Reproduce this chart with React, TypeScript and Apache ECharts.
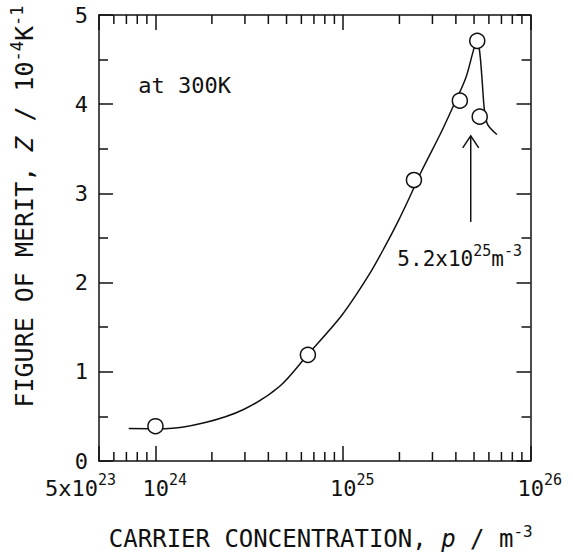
import React, { useEffect, useRef } from 'react';
import * as echarts from 'echarts';

// Measured points: carrier concentration p (m^-3) and figure of merit Z (10^-4 K^-1)
const measuredP = [1.0e24, 6.5e24, 2.39e25, 4.2e25, 5.2e25, 5.36e25];
const measuredZ = [0.39, 1.19, 3.15, 4.04, 4.71, 3.86];

// Hand-drawn fit curve, rising branch and falling branch
const fitRiseP = [7.2e23, 1.12e24, 1.82e24, 2.95e24, 4.6e24, 6.49e24, 9.91e24, 1.37e25, 1.67e25, 1.97e25, 2.27e25, 2.61e25, 3.33e25, 3.84e25, 4.51e25, 4.99e25, 5.2e25];
const fitRiseZ = [0.364, 0.361, 0.428, 0.577, 0.838, 1.193, 1.64, 2.08, 2.4, 2.69, 2.96, 3.24, 3.68, 3.96, 4.29, 4.62, 4.71];
const fitFallP = [5.2e25, 5.35e25, 5.52e25, 5.68e25, 5.86e25, 6.11e25, 6.62e25];
const fitFallZ = [4.71, 4.6, 4.27, 3.93, 3.79, 3.73, 3.66];

// Axis tick labels
const xLabelValues = [5e23, 1e24, 1e25, 1e26];
const xLabelMantissa = ['5x10', '10', '10', '10'];
const xLabelExponent = ['23', '24', '25', '26'];
const xMinorTicks = [6e23, 7e23, 8e23, 9e23, 2e24, 3e24, 4e24, 5e24, 6e24, 7e24, 8e24, 9e24, 2e25, 3e25, 4e25, 5e25, 6e25, 7e25, 8e25, 9e25];
const yTickLabels = ['0', '1', '2', '3', '4', '5'];

// Annotations (data coordinates)
const arrowP = [4.8e25];
const arrowFromZ = [2.68];
const arrowToZ = [3.645];
const noteP = [8.1e23, 1.95e25];
const noteZ = [4.21, 2.27];
const noteTexts = ['at 300K', '{b|5.2x10}{s|25}{b|m}{s|-3}'];

const xTitle = 'CARRIER CONCENTRATION, {i|p} / m{s|-3}';
const yTitle = 'FIGURE OF MERIT, {i|Z} / 10{s|-4}K{s|-1}';

export default function App() {
  const ref = useRef<HTMLDivElement>(null);
  useEffect(() => {
    const chart = echarts.init(ref.current!, null, { renderer: 'svg' });
    const FONT = "'DejaVu Sans Mono', monospace";
    const ink = '#111';
    const lw = 1.5;

    const axisLine = { show: true, onZero: false, lineStyle: { color: ink, width: lw } };
    const xAxisCommon = {
      type: 'log',
      logBase: 10,
      min: 5e23,
      max: 1e26,
      splitLine: { show: false },
      axisLine,
      axisLabel: { show: false },
      axisTick: { show: true, inside: true, length: 15, lineStyle: { color: ink, width: lw } },
    };
    const yAxisCommon = {
      type: 'value',
      min: 0,
      max: 5,
      interval: 1,
      splitLine: { show: false },
      axisLine,
      axisTick: { show: true, inside: true, length: 14, lineStyle: { color: ink, width: lw } },
      minorTick: { show: true, splitNumber: 2, length: 9, lineStyle: { color: ink, width: lw } },
    };
    const titleRich = {
      i: { fontSize: 24, fontFamily: FONT, fontStyle: 'italic', color: ink },
      s: { fontSize: 16, fontFamily: FONT, color: ink, padding: [0, 0, 16, 0] },
    };

    const option: any = {
      animation: false,
      backgroundColor: '#fff',
      grid: { left: 93.5, top: 15, right: 42.5, bottom: 94.5 },
      xAxis: [
        {
          ...xAxisCommon,
          position: 'bottom',
          name: xTitle,
          nameLocation: 'middle',
          nameGap: 62,
          nameTextStyle: {
            fontSize: 24,
            fontFamily: FONT,
            color: ink,
            padding: [0, 0, 0, 12],
            rich: titleRich,
          },
        },
        { ...xAxisCommon, position: 'top' },
      ],
      yAxis: [
        {
          ...yAxisCommon,
          position: 'left',
          axisLabel: {
            show: true,
            margin: 11,
            fontSize: 22,
            fontFamily: FONT,
            color: ink,
            formatter: (v: number) => yTickLabels[Math.round(v)] ?? '',
          },
          name: yTitle,
          nameLocation: 'middle',
          nameRotate: 90,
          nameGap: 58,
          nameTextStyle: {
            fontSize: 25,
            fontFamily: FONT,
            color: ink,
            padding: [0, 0, 0, 63],
            rich: {
              i: { fontSize: 25, fontFamily: FONT, fontStyle: 'italic', color: ink },
              s: { fontSize: 17, fontFamily: FONT, color: ink, padding: [0, 0, 16, 0] },
            },
          },
        },
        { ...yAxisCommon, position: 'right', axisLabel: { show: false } },
      ],
      series: [
        {
          type: 'line',
          name: 'fit-rise',
          data: fitRiseP.map((p, i) => [p, fitRiseZ[i]]),
          smooth: 0.3,
          showSymbol: false,
          symbol: 'none',
          lineStyle: { color: ink, width: lw },
          z: 2,
        },
        {
          type: 'line',
          name: 'fit-fall',
          data: fitFallP.map((p, i) => [p, fitFallZ[i]]),
          smooth: 0.4,
          showSymbol: false,
          symbol: 'none',
          lineStyle: { color: ink, width: lw },
          z: 2,
        },
        {
          type: 'scatter',
          name: 'measured',
          data: measuredP.map((p, i) => [p, measuredZ[i]]),
          symbol: 'circle',
          symbolSize: 15,
          itemStyle: { color: '#fff', borderColor: ink, borderWidth: lw, opacity: 1 },
          z: 4,
        },
        {
          type: 'custom',
          name: 'minor-ticks',
          data: xMinorTicks.map((v) => [v, 0]),
          encode: { x: 0, y: 1 },
          silent: true,
          z: 3,
          renderItem: (params: any, api: any) => {
            const v = api.value(0);
            const b = api.coord([v, 0]);
            const t = api.coord([v, 5]);
            return {
              type: 'group',
              children: [
                { type: 'line', shape: { x1: b[0], y1: b[1], x2: b[0], y2: b[1] - 9 }, style: { stroke: ink, lineWidth: lw } },
                { type: 'line', shape: { x1: t[0], y1: t[1], x2: t[0], y2: t[1] + 9 }, style: { stroke: ink, lineWidth: lw } },
              ],
            };
          },
        },
        {
          type: 'custom',
          name: 'x-labels',
          data: xLabelValues.map((v, i) => [v, 0, i]),
          encode: { x: 0, y: 1 },
          silent: true,
          clip: false,
          z: 3,
          renderItem: (params: any, api: any) => {
            const i = api.value(2);
            const c = api.coord([api.value(0), 0]);
            const first = i === 0;
            return {
              type: 'text',
              x: first ? c[0] + 17 : c[0] - 13,
              y: c[1] + 27,
              style: {
                text: `{b|${xLabelMantissa[i]}}{s|${xLabelExponent[i]}}`,
                align: first ? 'right' : 'left',
                verticalAlign: 'middle',
                fontSize: 22,
                fontFamily: FONT,
                fill: ink,
                rich: {
                  b: { fontSize: 22, fontFamily: FONT, fill: ink, color: ink, lineHeight: 24 },
                  s: { fontSize: 15, fontFamily: FONT, fill: ink, color: ink, lineHeight: 15, padding: [0, 0, 16, 0] },
                },
              },
            };
          },
        },
        {
          type: 'custom',
          name: 'arrow',
          data: arrowP.map((p, i) => [p, arrowFromZ[i], arrowToZ[i]]),
          encode: { x: 0, y: [1, 2] },
          silent: true,
          z: 3,
          renderItem: (params: any, api: any) => {
            const p0 = api.coord([api.value(0), api.value(1)]);
            const p1 = api.coord([api.value(0), api.value(2)]);
            return {
              type: 'group',
              children: [
                { type: 'line', shape: { x1: p0[0], y1: p0[1], x2: p1[0], y2: p1[1] }, style: { stroke: ink, lineWidth: lw } },
                {
                  type: 'polyline',
                  shape: { points: [[p1[0] - 8, p1[1] + 12], [p1[0], p1[1]], [p1[0] + 8, p1[1] + 12]] },
                  style: { stroke: ink, fill: 'none', lineWidth: lw },
                },
              ],
            };
          },
        },
        {
          type: 'custom',
          name: 'notes',
          data: noteP.map((p, i) => [p, noteZ[i], i]),
          encode: { x: 0, y: 1 },
          silent: true,
          z: 3,
          renderItem: (params: any, api: any) => {
            const pt = api.coord([api.value(0), api.value(1)]);
            const idx = api.value(2);
            return {
              type: 'text',
              x: pt[0],
              y: pt[1],
              style: {
                text: noteTexts[idx],
                fontSize: 22,
                fontFamily: FONT,
                fill: ink,
                align: 'left',
                verticalAlign: 'middle',
                rich: {
                  b: { fontSize: 21, fontFamily: FONT, fill: ink, color: ink, lineHeight: 24 },
                  s: { fontSize: 15, fontFamily: FONT, fill: ink, color: ink, lineHeight: 15, padding: [0, 0, 16, 0] },
                },
              },
            };
          },
        },
      ],
    };
    chart.setOption(option);
    return () => chart.dispose();
  }, []);
  return (
    <div
      ref={ref}
      style={{ position: 'absolute', left: 0, top: 0, width: 573, height: 556, background: '#fff' }}
    />
  );
}
